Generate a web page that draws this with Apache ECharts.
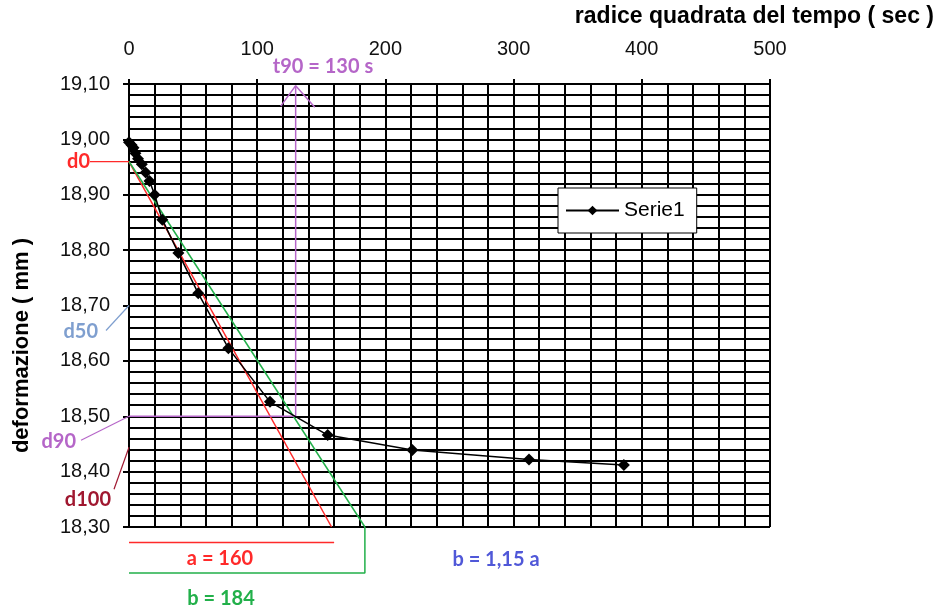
<!DOCTYPE html>
<html>
<head>
<meta charset="utf-8">
<script src="https://cdn.jsdelivr.net/npm/echarts@6/dist/echarts.min.js"></script>
<style>
  html, body { margin: 0; padding: 0; background: #fff; }
  #chart { width: 937px; height: 611px; }
</style>
</head>
<body>
<div id="chart"></div>
<script>
// misure (radice del tempo / deformazione)
const sqrtTime = [0, 2, 3.5, 5, 7, 10, 13, 16, 20, 26, 38.5, 54, 77.5, 110, 155, 221, 312, 386];
const deformation = [18.995, 18.99, 18.985, 18.975, 18.965, 18.955, 18.94, 18.925, 18.9, 18.855, 18.795, 18.722, 18.623, 18.526, 18.466, 18.439, 18.422, 18.412];

// costruzione di Taylor
const d0 = 18.96;
const d50 = 18.70;
const d90 = 18.50;
const d100 = 18.444;
const aLine = [[0, d0], [158, 18.30]];
const bLine = [[0, d0], [184, 18.30]];
const aBracket = [[0, 18.272], [160, 18.272]];
const bBracket = [[184, 18.30], [184, 18.217], [0, 18.217]];
const t90Path = [[0, d90], [130, d90], [130, 19.097]];
const t90Arrow = [[118.4, 19.06], [130, 19.097], [144.9, 19.058]];

const RED = '#ff2a2a';
const GREEN = '#22b04a';
const PURPLE = '#b566c8';

let myChart = echarts.init(document.getElementById('chart'));

const pairs = sqrtTime.map((x, i) => [x, deformation[i]]);
const gridLine = { show: true, lineStyle: { color: '#000', width: 2, type: 'solid' } };
const numFont = 'Arial, "Liberation Sans", sans-serif';

let option = {
    animation: false,
    grid: { left: 129, top: 84, right: 167, bottom: 84 },
    legend: {
        data: ['Serie1'],
        left: 558, top: 188,
        backgroundColor: '#fff',
        borderColor: '#000', borderWidth: 1, borderRadius: 0,
        padding: [12, 12, 12, 7],
        itemWidth: 53, itemHeight: 12, itemGap: 0,
        textStyle: { fontSize: 21, fontFamily: numFont, color: '#000' }
    },
    xAxis: {
        type: 'value', position: 'top',
        min: 0, max: 500, interval: 100,
        name: 'radice quadrata del tempo ( sec )',
        nameLocation: 'end',
        nameGap: 0,
        nameTextStyle: { fontSize: 23, fontWeight: 'bold', fontFamily: numFont, color: '#000', align: 'right', verticalAlign: 'bottom', padding: [0, -164, 56, 0] },
        axisLine: { show: true, lineStyle: { color: '#000', width: 2 } },
        axisTick: { show: true, length: 5, lineStyle: { color: '#000', width: 2 } },
        axisLabel: { fontSize: 20, fontFamily: numFont, color: '#111', margin: 25 },
        splitLine: gridLine,
        minorTick: { show: false, splitNumber: 5 },
        minorSplitLine: gridLine
    },
    yAxis: {
        type: 'value',
        min: 18.3, max: 19.1, interval: 0.1,
        name: 'deformazione ( mm )',
        nameLocation: 'middle',
        nameGap: 96,
        nameTextStyle: { fontSize: 22, fontWeight: 'bold', fontFamily: numFont, color: '#000', padding: [0, 80, 0, 0] },
        axisLine: { show: true, lineStyle: { color: '#000', width: 2 } },
        axisTick: { show: true, length: 6, lineStyle: { color: '#000', width: 2 } },
        axisLabel: {
            fontSize: 20, fontFamily: numFont, color: '#111', margin: 19,
            formatter: v => v.toFixed(2).replace('.', ',')
        },
        splitLine: gridLine,
        minorTick: { show: false, splitNumber: 5 },
        minorSplitLine: gridLine
    },
    series: [
        { name: 'a', type: 'line', data: aLine, symbol: 'none', clip: false, lineStyle: { color: RED, width: 1.5 }, z: 3 },
        { name: 'b', type: 'line', data: bLine, symbol: 'none', clip: false, lineStyle: { color: GREEN, width: 1.5 }, z: 3 },
        { name: 'aBr', type: 'line', data: aBracket, symbol: 'none', clip: false, lineStyle: { color: RED, width: 1.5 } },
        { name: 'bBr', type: 'line', data: bBracket, symbol: 'none', clip: false, lineStyle: { color: GREEN, width: 1.5 } },
        { name: 't90', type: 'line', data: t90Path, symbol: 'none', clip: false, lineStyle: { color: PURPLE, width: 1.5 }, z: 3 },
        { name: 't90a', type: 'line', data: t90Arrow, symbol: 'none', clip: false, lineStyle: { color: PURPLE, width: 1.5 }, z: 3 },
        {
            name: 'Serie1', type: 'line', data: pairs,
            symbol: 'diamond', symbolSize: 12,
            itemStyle: { color: '#000' },
            lineStyle: { color: '#000', width: 1.5 },
            z: 4
        }
    ]
};
myChart.setOption(option);

// etichette della costruzione
const px = v => myChart.convertToPixel({ gridIndex: 0 }, v);
const ann = 'bold 20px Lato, "Open Sans", sans-serif';
function label(text, x, y, color, align) {
    return { type: 'text', z: 10, style: { text: text, x: x, y: y, fill: color, font: ann, textAlign: align || 'center', textVerticalAlign: 'middle', align: align || 'center', verticalAlign: 'middle' } };
}
function seg(p1, p2, color) {
    return { type: 'line', z: 10, shape: { x1: p1[0], y1: p1[1], x2: p2[0], y2: p2[1] }, style: { stroke: color, lineWidth: 1.2 } };
}
const p0 = px([0, d0]), p50 = px([0, d50]), p90 = px([0, d90]), p100 = px([0, d100]);
myChart.setOption({
    graphic: [
        label('d0', 90, p0[1], RED, 'right'),
        seg([90, p0[1]], p0, RED),
        label('d50', 98, p50[1] + 26, '#7f9fcf', 'right'),
        seg([106, p50[1] + 25], p50, '#7f9fcf'),
        label('d90', 76, p90[1] + 25, PURPLE, 'right'),
        seg([81, p90[1] + 24], p90, PURPLE),
        label('d100', 111, p100[1] + 52, '#a01830', 'right'),
        seg([114, p100[1] + 42], p100, '#a01830'),
        label('t90 = 130 s', 323, 67, PURPLE),
        label('a = 160', 220, 559, RED),
        label('b = 184', 221, 599, GREEN),
        label('b = 1,15 a', 496, 560, '#5058d8')
    ]
});
</script>
</body>
</html>
